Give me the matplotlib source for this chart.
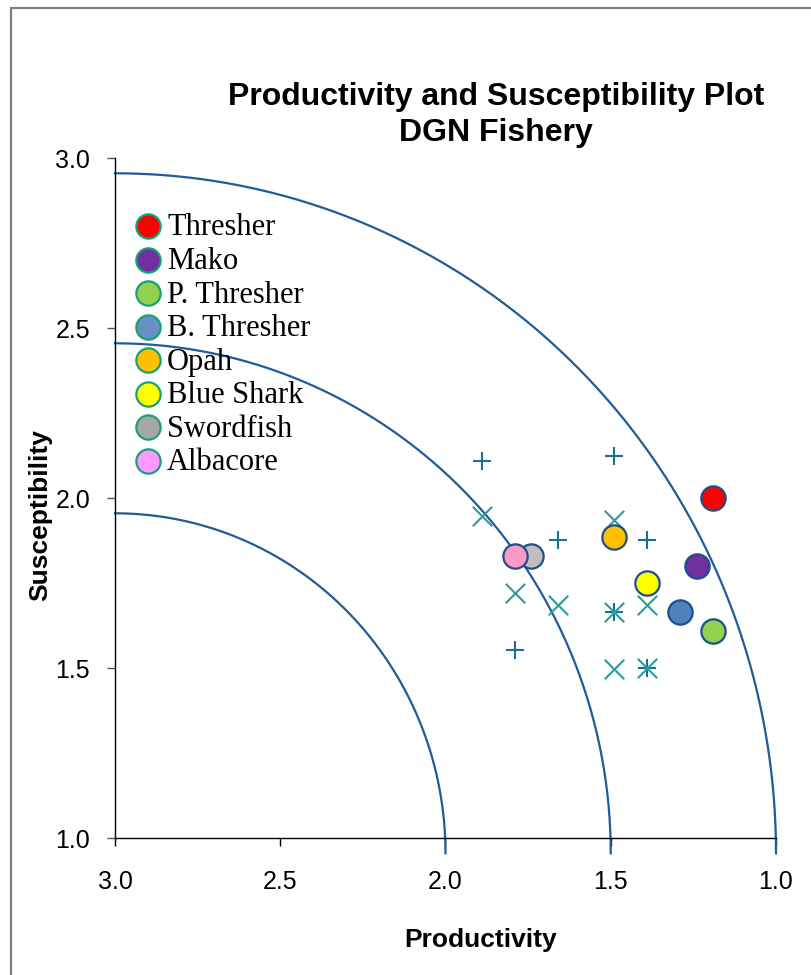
import numpy as np
import matplotlib
matplotlib.use("Agg")
import matplotlib.pyplot as plt
from matplotlib.patches import Rectangle

# ---- data ----
species = ["Thresher", "Mako", "P. Thresher", "B. Thresher", "Opah",
           "Blue Shark", "Swordfish", "Albacore"]
species_prod = [1.19, 1.24, 1.19, 1.29, 1.49, 1.39, 1.74, 1.79]
species_susc = [2.00, 1.80, 1.61, 1.665, 1.885, 1.75, 1.83, 1.83]
species_colors = ["#FF0000", "#7030A0", "#92D050", "#4F81BD", "#FFC000",
                  "#FFFF00", "#BFBFBF", "#FF99CC"]
legend_colors = ["#FF0000", "#7030A0", "#92D050", "#6A8FC4", "#FFC000",
                 "#FFFF00", "#A6A6A6", "#FF99FF"]

plus_prod = [1.89, 1.49, 1.66, 1.39, 1.79, 1.49, 1.39]
plus_susc = [2.11, 2.125, 1.876, 1.876, 1.553, 1.665, 1.50]

cross_prod = [1.89, 1.49, 1.79, 1.66, 1.49, 1.39, 1.49, 1.39]
cross_susc = [1.947, 1.935, 1.72, 1.685, 1.665, 1.685, 1.497, 1.50]

arc_radii = [1.0, 1.5, 2.0]
arc_center = (3.0, 0.955)

x_ticks = [3.0, 2.5, 2.0, 1.5, 1.0]
y_ticks = [1.0, 1.5, 2.0, 2.5, 3.0]

W, H = 811, 975

# ---- figure ----
fig = plt.figure(figsize=(W / 100, H / 100), dpi=100)
fig.patch.set_facecolor("white")
fig.patches.append(Rectangle((11 / W, -0.01), 1.02, 1 - 8 / H + 0.01,
                             transform=fig.transFigure, fill=False,
                             edgecolor="#7F7F7F", linewidth=1.6))

ax = fig.add_axes([115 / W, 1 - 838 / H, (776 - 115) / W, (838 - 158) / H])
ax.set_xlim(3.0, 1.0)
ax.set_ylim(1.0, 3.0)

for sp in ["top", "right"]:
    ax.spines[sp].set_visible(False)
for sp in ["left", "bottom"]:
    ax.spines[sp].set_color("black")
    ax.spines[sp].set_linewidth(1.0)

ax.set_xticks(x_ticks)
ax.set_yticks(y_ticks)
ax.set_xticklabels([f"{v:.1f}" for v in x_ticks], fontfamily="Liberation Sans", fontsize=18)
ax.set_yticklabels([f"{v:.1f}" for v in y_ticks], fontfamily="Liberation Sans", fontsize=18)
ax.tick_params(axis="x", direction="out", length=6, width=1, pad=17)
ax.tick_params(axis="y", direction="out", length=6, width=1, pad=12, color="#555555")

# arcs
theta = np.linspace(0, np.pi / 2, 200)
for r in arc_radii:
    ax.plot(arc_center[0] - r * np.cos(theta), arc_center[1] + r * np.sin(theta),
            color="#1F5C99", linewidth=1.6, clip_on=False, zorder=2)

# plus and cross markers
ax.scatter(plus_prod, plus_susc, marker="+", s=13 ** 2, color="#1B6E9A",
           linewidths=1.5, zorder=3)
ax.scatter(cross_prod, cross_susc, marker="x", s=14 ** 2, color="#2A9D9D",
           linewidths=1.5, zorder=3)

# species circles
for p, s, c in zip(species_prod, species_susc, species_colors):
    ax.plot([p], [s], marker="o", markersize=17.5, markerfacecolor=c,
            markeredgecolor="#1F4E8C", markeredgewidth=1.6, linestyle="none", zorder=4)

# legend (drawn as marker + text rows)
row0, pitch = 226, 33.57
for i, (name, c) in enumerate(zip(species, legend_colors)):
    yc = row0 + pitch * i
    fig.add_artist(plt.Line2D([148 / W], [1 - yc / H], transform=fig.transFigure,
                              marker="o", linestyle="none", markersize=17.5,
                              markerfacecolor=c, markeredgecolor="#17A07A",
                              markeredgewidth=1.6, zorder=5))
    fig.text(167 / W, 1 - (yc + 9.5) / H, name, ha="left", va="baseline",
             fontsize=22, fontfamily="Liberation Serif", color="black", zorder=6)

# titles and axis labels
fig.text(496 / W, 1 - 97 / H, "Productivity and Susceptibility Plot",
         ha="center", va="center", fontsize=23, fontweight="bold",
         fontfamily="Liberation Sans")
fig.text(496 / W, 1 - 133 / H, "DGN Fishery",
         ha="center", va="center", fontsize=23, fontweight="bold",
         fontfamily="Liberation Sans")
fig.text(481 / W, 1 - 940 / H, "Productivity", ha="center", va="center",
         fontsize=19, fontweight="bold", fontfamily="Liberation Sans")
fig.text(40 / W, 1 - 515 / H, "Susceptibility", ha="center", va="center",
         rotation=90, fontsize=19, fontweight="bold", fontfamily="Liberation Sans")

fig.savefig("out.png", dpi=100, facecolor="white")
